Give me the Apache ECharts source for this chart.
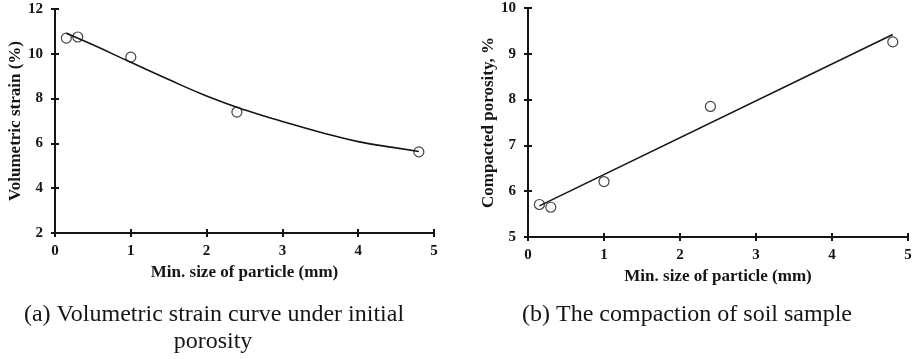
<!DOCTYPE html>
<html>
<head>
<meta charset="utf-8">
<script src="https://cdn.jsdelivr.net/npm/echarts@6/dist/echarts.min.js"></script>
<style>
  html, body { margin: 0; padding: 0; background: #fff; }
  #chart { width: 919px; height: 359px; }
</style>
</head>
<body>
<div id="chart"></div>
<script>
// (a) measured volumetric strain vs. minimum particle size
const strainSize = [0.15, 0.3, 1.0, 2.4, 4.8];
const strainValue = [10.7, 10.75, 9.85, 7.4, 5.62];
// (a) fitted trend curve
const strainFitSize = [0.15, 0.5, 1.0, 1.5, 2.0, 2.5, 3.0, 3.5, 4.0, 4.5, 4.8];
const strainFitValue = [10.92, 10.4, 9.62, 8.85, 8.12, 7.5, 6.98, 6.5, 6.08, 5.8, 5.64];

// (b) measured compacted porosity vs. minimum particle size
const porositySize = [0.15, 0.3, 1.0, 2.4, 4.8];
const porosityValue = [5.71, 5.65, 6.21, 7.85, 9.26];
// (b) fitted linear trend (end points)
const porosityFitSize = [0.15, 4.8];
const porosityFitValue = [5.68, 9.42];

const xTicks = [0, 1, 2, 3, 4, 5];

const serif = '"Liberation Serif", "Times New Roman", serif';
const ink = '#151515';

const pairs = (xs, ys) => xs.map((x, i) => [x, ys[i]]);

// main axes carry line, outward ticks and labels; the twin axes add the inward half of each tick
function xAxisFor(grid, nameGap, main) {
  return {
    type: 'value', gridIndex: grid, position: 'bottom',
    min: xTicks[0], max: xTicks[xTicks.length - 1], interval: 1,
    name: main ? 'Min. size of particle (mm)' : '',
    nameLocation: 'middle', nameGap: nameGap,
    nameTextStyle: { fontFamily: serif, fontWeight: 'bold', fontSize: 17, color: ink },
    axisLine: { show: main, onZero: false, lineStyle: { color: ink, width: 2 } },
    axisTick: { show: true, inside: !main, length: 4, lineStyle: { color: ink, width: 2 } },
    axisLabel: { show: main, margin: 11, fontFamily: serif, fontWeight: 'bold', fontSize: 15, color: ink },
    splitLine: { show: false }
  };
}

function yAxisFor(grid, min, max, step, name, nameGap, main) {
  return {
    type: 'value', gridIndex: grid, position: 'left', min: min, max: max, interval: step,
    name: main ? name : '',
    nameLocation: 'middle', nameGap: nameGap,
    nameTextStyle: { fontFamily: serif, fontWeight: 'bold', fontSize: 17, color: ink },
    axisLine: { show: main, onZero: false, lineStyle: { color: ink, width: 2 } },
    axisTick: { show: true, inside: !main, length: 4, lineStyle: { color: ink, width: 2 } },
    axisLabel: { show: main, margin: 12, fontFamily: serif, fontWeight: 'bold', fontSize: 15, color: ink },
    splitLine: { show: false }
  };
}

const circleStyle = { color: 'rgba(0,0,0,0)', borderColor: ink, borderWidth: 1.2 };

const chart = echarts.init(document.getElementById('chart'), null, { renderer: 'canvas' });
chart.setOption({
  backgroundColor: '#fff',
  animation: false,
  grid: [
    { left: 55, right: 485, top: 9, bottom: 126 },
    { left: 528, right: 11, top: 8, bottom: 122 }
  ],
  xAxis: [
    xAxisFor(0, 31, true),
    xAxisFor(1, 31, true),
    xAxisFor(0, 0, false),
    xAxisFor(1, 0, false)
  ],
  yAxis: [
    yAxisFor(0, 2, 12, 2, 'Volumetric strain (%)', 31, true),
    yAxisFor(1, 5, 10, 1, 'Compacted porosity, %', 28, true),
    yAxisFor(0, 2, 12, 2, '', 0, false),
    yAxisFor(1, 5, 10, 1, '', 0, false)
  ],
  series: [
    {
      type: 'line', xAxisIndex: 0, yAxisIndex: 0, smooth: true, showSymbol: false,
      lineStyle: { color: ink, width: 1.6 }, data: pairs(strainFitSize, strainFitValue), z: 2
    },
    {
      type: 'scatter', xAxisIndex: 0, yAxisIndex: 0, symbol: 'circle', symbolSize: 10,
      itemStyle: circleStyle, data: pairs(strainSize, strainValue), z: 3
    },
    {
      type: 'line', xAxisIndex: 1, yAxisIndex: 1, showSymbol: false,
      lineStyle: { color: ink, width: 1.6 }, data: pairs(porosityFitSize, porosityFitValue), z: 2
    },
    {
      type: 'scatter', xAxisIndex: 1, yAxisIndex: 1, symbol: 'circle', symbolSize: 10,
      itemStyle: circleStyle, data: pairs(porositySize, porosityValue), z: 3
    }
  ],
  graphic: [
    {
      type: 'text', x: 214, y: 315,
      style: { text: '(a) Volumetric strain curve under initial', font: '24px ' + serif, fill: ink, align: 'center', verticalAlign: 'middle' }
    },
    {
      type: 'text', x: 213, y: 342,
      style: { text: 'porosity', font: '24px ' + serif, fill: ink, align: 'center', verticalAlign: 'middle' }
    },
    {
      type: 'text', x: 687, y: 315,
      style: { text: '(b) The compaction of soil sample', font: '24px ' + serif, fill: ink, align: 'center', verticalAlign: 'middle' }
    }
  ]
});
</script>
</body>
</html>
